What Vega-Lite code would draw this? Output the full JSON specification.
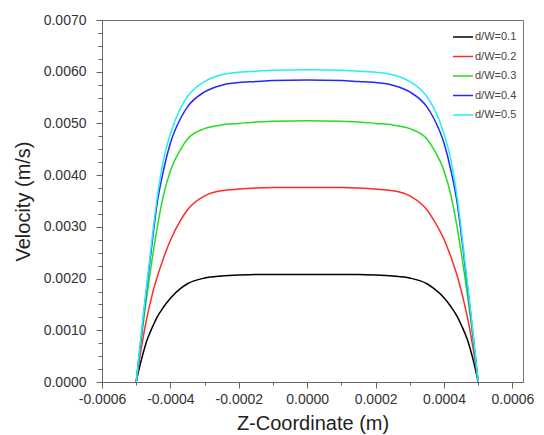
{
  "$schema": "https://vega.github.io/schema/vega-lite/v6.json",
  "width": 421,
  "height": 362,
  "autosize": "none",
  "padding": {"left": 102, "top": 20, "right": 21, "bottom": 53},
  "background": "white",
  "config": {
    "font": "Liberation Sans",
    "view": {"stroke": "#777", "strokeWidth": 1},
    "axis": {"grid": false, "domainColor": "#666", "tickColor": "#666", "labelColor": "#333", "titleColor": "#222", "labelFont": "Liberation Sans", "titleFont": "Liberation Sans"}
  },
  "data": {
    "values": [
      {"z": -0.0005, "a": 0, "b": 0, "c": 0, "d": 0, "e": 0},
      {"z": -0.00049, "a": 0.0003, "b": 0.00045, "c": 0.00055, "d": 0.0006, "e": 0.00062},
      {"z": -0.00048, "a": 0.00055, "b": 0.00085, "c": 0.0011, "d": 0.0012, "e": 0.00124},
      {"z": -0.00047, "a": 0.00078, "b": 0.0012, "c": 0.00161, "d": 0.00178, "e": 0.00183},
      {"z": -0.00046, "a": 0.00095, "b": 0.0015, "c": 0.00208, "d": 0.00233, "e": 0.0024},
      {"z": -0.00045, "a": 0.0011, "b": 0.00177, "c": 0.00252, "d": 0.00288, "e": 0.00298},
      {"z": -0.00044, "a": 0.00124, "b": 0.002, "c": 0.00293, "d": 0.0034, "e": 0.0035},
      {"z": -0.00042, "a": 0.00145, "b": 0.0024, "c": 0.00362, "d": 0.0041, "e": 0.0043},
      {"z": -0.0004, "a": 0.00162, "b": 0.00274, "c": 0.00408, "d": 0.00462, "e": 0.0048},
      {"z": -0.00037, "a": 0.00181, "b": 0.00313, "c": 0.0045, "d": 0.0051, "e": 0.0053},
      {"z": -0.00035, "a": 0.0019, "b": 0.00333, "c": 0.0047, "d": 0.00532, "e": 0.00552},
      {"z": -0.0003, "a": 0.00201, "b": 0.0036, "c": 0.0049, "d": 0.00561, "e": 0.00581},
      {"z": -0.00025, "a": 0.00205, "b": 0.0037, "c": 0.00497, "d": 0.00574, "e": 0.00594},
      {"z": -0.0002, "a": 0.00207, "b": 0.00373, "c": 0.005, "d": 0.00579, "e": 0.00599},
      {"z": -0.00015, "a": 0.00208, "b": 0.00375, "c": 0.00503, "d": 0.00581, "e": 0.00601},
      {"z": -0.0001, "a": 0.00208, "b": 0.00376, "c": 0.00504, "d": 0.00583, "e": 0.00603},
      {"z": 0, "a": 0.00208, "b": 0.00376, "c": 0.00505, "d": 0.00584, "e": 0.00604},
      {"z": 0.0001, "a": 0.00208, "b": 0.00376, "c": 0.00504, "d": 0.00583, "e": 0.00603},
      {"z": 0.00015, "a": 0.00208, "b": 0.00375, "c": 0.00503, "d": 0.00581, "e": 0.00601},
      {"z": 0.0002, "a": 0.00207, "b": 0.00373, "c": 0.005, "d": 0.00579, "e": 0.00599},
      {"z": 0.00025, "a": 0.00205, "b": 0.0037, "c": 0.00497, "d": 0.00574, "e": 0.00594},
      {"z": 0.0003, "a": 0.00201, "b": 0.0036, "c": 0.0049, "d": 0.00561, "e": 0.00581},
      {"z": 0.00035, "a": 0.0019, "b": 0.00333, "c": 0.0047, "d": 0.00532, "e": 0.00552},
      {"z": 0.00037, "a": 0.00181, "b": 0.00313, "c": 0.0045, "d": 0.0051, "e": 0.0053},
      {"z": 0.0004, "a": 0.00163, "b": 0.00276, "c": 0.00408, "d": 0.00462, "e": 0.0048},
      {"z": 0.00042, "a": 0.00146, "b": 0.00242, "c": 0.00362, "d": 0.0041, "e": 0.0043},
      {"z": 0.00044, "a": 0.00125, "b": 0.00202, "c": 0.00293, "d": 0.0034, "e": 0.0035},
      {"z": 0.00045, "a": 0.00111, "b": 0.00178, "c": 0.00252, "d": 0.00288, "e": 0.00298},
      {"z": 0.00046, "a": 0.00096, "b": 0.0015, "c": 0.00208, "d": 0.00233, "e": 0.0024},
      {"z": 0.00047, "a": 0.00079, "b": 0.0012, "c": 0.00161, "d": 0.00178, "e": 0.00183},
      {"z": 0.00048, "a": 0.00056, "b": 0.00085, "c": 0.0011, "d": 0.0012, "e": 0.00124},
      {"z": 0.00049, "a": 0.0003, "b": 0.00045, "c": 0.00055, "d": 0.0006, "e": 0.00062},
      {"z": 0.0005, "a": 0, "b": 0, "c": 0, "d": 0, "e": 0}
    ]
  },
  "transform": [
    {"fold": ["a", "b", "c", "d", "e"], "as": ["key", "v"]},
    {"lookup": "key", "from": {"data": {"values": [
      {"key": "a", "series": "d/W=0.1"},
      {"key": "b", "series": "d/W=0.2"},
      {"key": "c", "series": "d/W=0.3"},
      {"key": "d", "series": "d/W=0.4"},
      {"key": "e", "series": "d/W=0.5"}
    ]}, "key": "key", "fields": ["series"]}}
  ],
  "mark": {"type": "line", "interpolate": "monotone", "strokeWidth": 1.5, "clip": true},
  "encoding": {
    "x": {
      "field": "z", "type": "quantitative",
      "scale": {"domain": [-0.0006, 0.000631], "nice": false, "zero": false},
      "axis": {
        "title": "Z-Coordinate (m)",
        "values": [-0.0006, -0.0005, -0.0004, -0.0003, -0.0002, -0.0001, 0, 0.0001, 0.0002, 0.0003, 0.0004, 0.0005, 0.0006],
        "labelExpr": "abs(round(datum.value*10000)) % 2 == 0 ? replace(format(datum.value, '.4f'), '−', '-') : ''",
        "tickSize": {"condition": {"test": "abs(round(datum.value*10000)) % 2 == 0", "value": 6}, "value": 3},
        "labelFontSize": 14,
        "labelPadding": 4,
        "labelFlush": false,
        "labelOverlap": false,
        "titleFontSize": 20,
        "titleFontWeight": "normal",
        "titlePadding": 7
      }
    },
    "y": {
      "field": "v", "type": "quantitative",
      "scale": {"domain": [0, 0.007], "nice": false},
      "axis": {
        "title": "Velocity (m/s)",
        "values": [0, 0.00025, 0.0005, 0.00075, 0.001, 0.00125, 0.0015, 0.00175, 0.002, 0.00225, 0.0025, 0.00275, 0.003, 0.00325, 0.0035, 0.00375, 0.004, 0.00425, 0.0045, 0.00475, 0.005, 0.00525, 0.0055, 0.00575, 0.006, 0.00625, 0.0065, 0.00675, 0.007],
        "labelExpr": "round(datum.value*100000) % 100 == 0 ? format(datum.value, '.4f') : ''",
        "tickSize": {"condition": {"test": "round(datum.value*100000) % 100 == 0", "value": 6}, "value": 4},
        "labelFontSize": 14,
        "labelPadding": 10,
        "labelFlush": false,
        "labelOverlap": false,
        "titleFontSize": 20,
        "titleFontWeight": "normal",
        "titlePadding": 10
      }
    },
    "color": {
      "field": "series", "type": "nominal",
      "scale": {"domain": ["d/W=0.1", "d/W=0.2", "d/W=0.3", "d/W=0.4", "d/W=0.5"], "range": ["#000000", "#ff2a2a", "#22dd22", "#2626ff", "#22f0f0"]},
      "legend": {
        "title": null,
        "orient": "none",
        "legendX": 350,
        "legendY": 6,
        "padding": 0,
        "symbolType": "stroke",
        "symbolSize": 400,
        "symbolStrokeWidth": 1.5,
        "labelFontSize": 11,
        "labelColor": "#444",
        "labelOffset": 1,
        "rowPadding": 3.5
      }
    }
  }
}
